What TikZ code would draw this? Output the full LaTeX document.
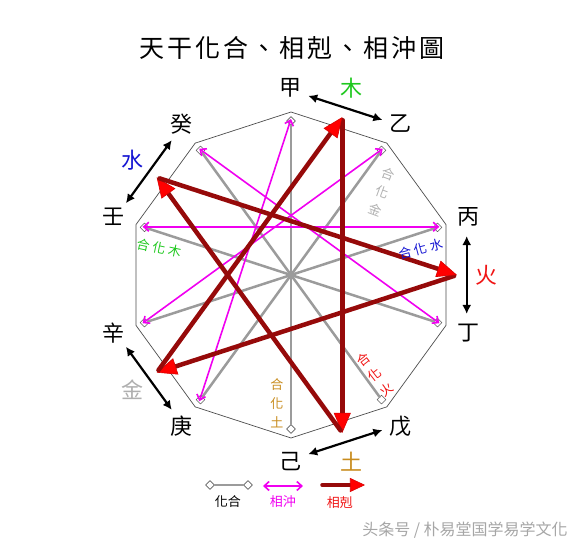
\documentclass[tikz,border=0pt]{standalone}
\usepackage{fontspec}
\setmainfont{Noto Sans CJK TC}
\usetikzlibrary{arrows.meta,shapes.geometric}
\definecolor{hegray}{RGB}{155,155,155}
\definecolor{chongmag}{RGB}{240,0,240}
\definecolor{kered}{RGB}{150,10,10}
\definecolor{mucol}{RGB}{30,200,30}
\definecolor{tucol}{RGB}{200,140,30}
\definecolor{jincol}{RGB}{175,175,175}
\definecolor{shuicol}{RGB}{20,20,210}
\definecolor{huocol}{RGB}{240,20,20}
\begin{document}
\begin{tikzpicture}[x=1pt,y=1pt,line join=round,line cap=round,
  stem/.style={font=\fontsize{22}{22}\selectfont},
  small/.style={font=\fontsize{13}{19}\selectfont,inner sep=0pt,align=center},
  he/.style={draw=hegray,line width=2.5pt},
  chong/.style={draw=chongmag,line width=1.6pt,{Straight Barb[length=5pt,width=9pt]}-{Straight Barb[length=5pt,width=9pt]}},
  ke/.style={draw=kered,line width=4.5pt,shorten <=3pt,-{Triangle[length=20pt,width=17pt,fill=red,color=red!85!black,line width=0.6pt]}},
  pair/.style={line width=2.2pt,{Latex[length=9pt,width=9pt]}-{Latex[length=9pt,width=9pt]}},
  dia/.style={diamond,draw=hegray!60!black,fill=white,line width=0.6pt,inner sep=0pt,minimum size=9pt}]
\useasboundingbox (-291,-276) rectangle (291,275);
\node[font=\fontsize{25}{25}\selectfont\addfontfeatures{LetterSpace=12}] (title) at (1,227) {天干化合、相剋、相沖圖};
\foreach \s [count=\i from 0] in {甲,乙,丙,丁,戊,己,庚,辛,壬,癸} {
  \coordinate (v\i) at ({90-36*\i}:163);
  \coordinate (m\i) at ({90-36*\i}:156);
  \node[stem] (s\i) at ({90-36*\i}:187) {\s};
  \node[dia] (d\i) at ({90-36*\i}:154) {};
}
\draw[black!70,line width=0.7pt] (v0)--(v1)--(v2)--(v3)--(v4)--(v5)--(v6)--(v7)--(v8)--(v9)--cycle;
\foreach \i in {0,...,4} {\pgfmathtruncatemacro\j{\i+5} \draw[he] (d\i)--(d\j);}
\foreach \i in {0,...,3} {\pgfmathtruncatemacro\j{\i+6} \draw[chong] (m\i)--(m\j);}
\foreach \e/\c [count=\k from 0] in {木/mucol,火/huocol,土/tucol,金/jincol,水/shuicol} {
  \node[stem,text=\c] (e\k) at ({72-72*\k}:196) {\e};
  \coordinate (p\k) at ({72-72*\k+12.5}:180);
  \coordinate (q\k) at ({72-72*\k-12.5}:180);
  \coordinate (k\k) at ({72-72*\k}:166);
  \draw[pair] (p\k)--(q\k);
}
\foreach \i in {0,...,4} {\pgfmathtruncatemacro\j{mod(\i+2,5)} \draw[ke] (k\i)--(k\j);}
\node[small,text=tucol] (hT) at (-14,-128) {合\\化\\土};
\node[small,text=jincol,rotate=-20] (hJ) at (91,83) {合\\化\\金};
\node[small,text=shuicol,rotate=15] (hS) at (130,26) {合\hspace{3pt}化\hspace{3pt}水};
\node[small,text=mucol,rotate=-12] (hM) at (-132,27) {合\hspace{3pt}化\hspace{3pt}木};
\node[small,text=huocol,rotate=38] (hH) at (84,-100) {合\\化\\火};
% legend
\node[dia] (la) at (-81,-210) {};
\node[dia] (lb) at (-43,-210) {};
\draw[he] (la)--(lb);
\node[small] (lt1) at (-63,-227) {化合};
\coordinate (lc) at (-28,-211);
\coordinate (ld) at (12,-211);
\draw[chong] (lc)--(ld);
\node[small,text=chongmag] (lt2) at (-8,-227) {相沖};
\coordinate (le) at (31,-210);
\coordinate (lf) at (74,-210);
\draw[draw=kered,line width=3.5pt,-{Triangle[length=15pt,width=14pt,fill=red,color=red!85!black,line width=0.6pt]}] (le)--(lf);
\node[small,text=huocol] (lt3) at (49,-228) {相剋};
\node[text=black!35,font=\fontsize{16}{16}\selectfont] (wm) at (174,-255) {头条号 / 朴易堂国学易学文化};
\end{tikzpicture}
\end{document}
